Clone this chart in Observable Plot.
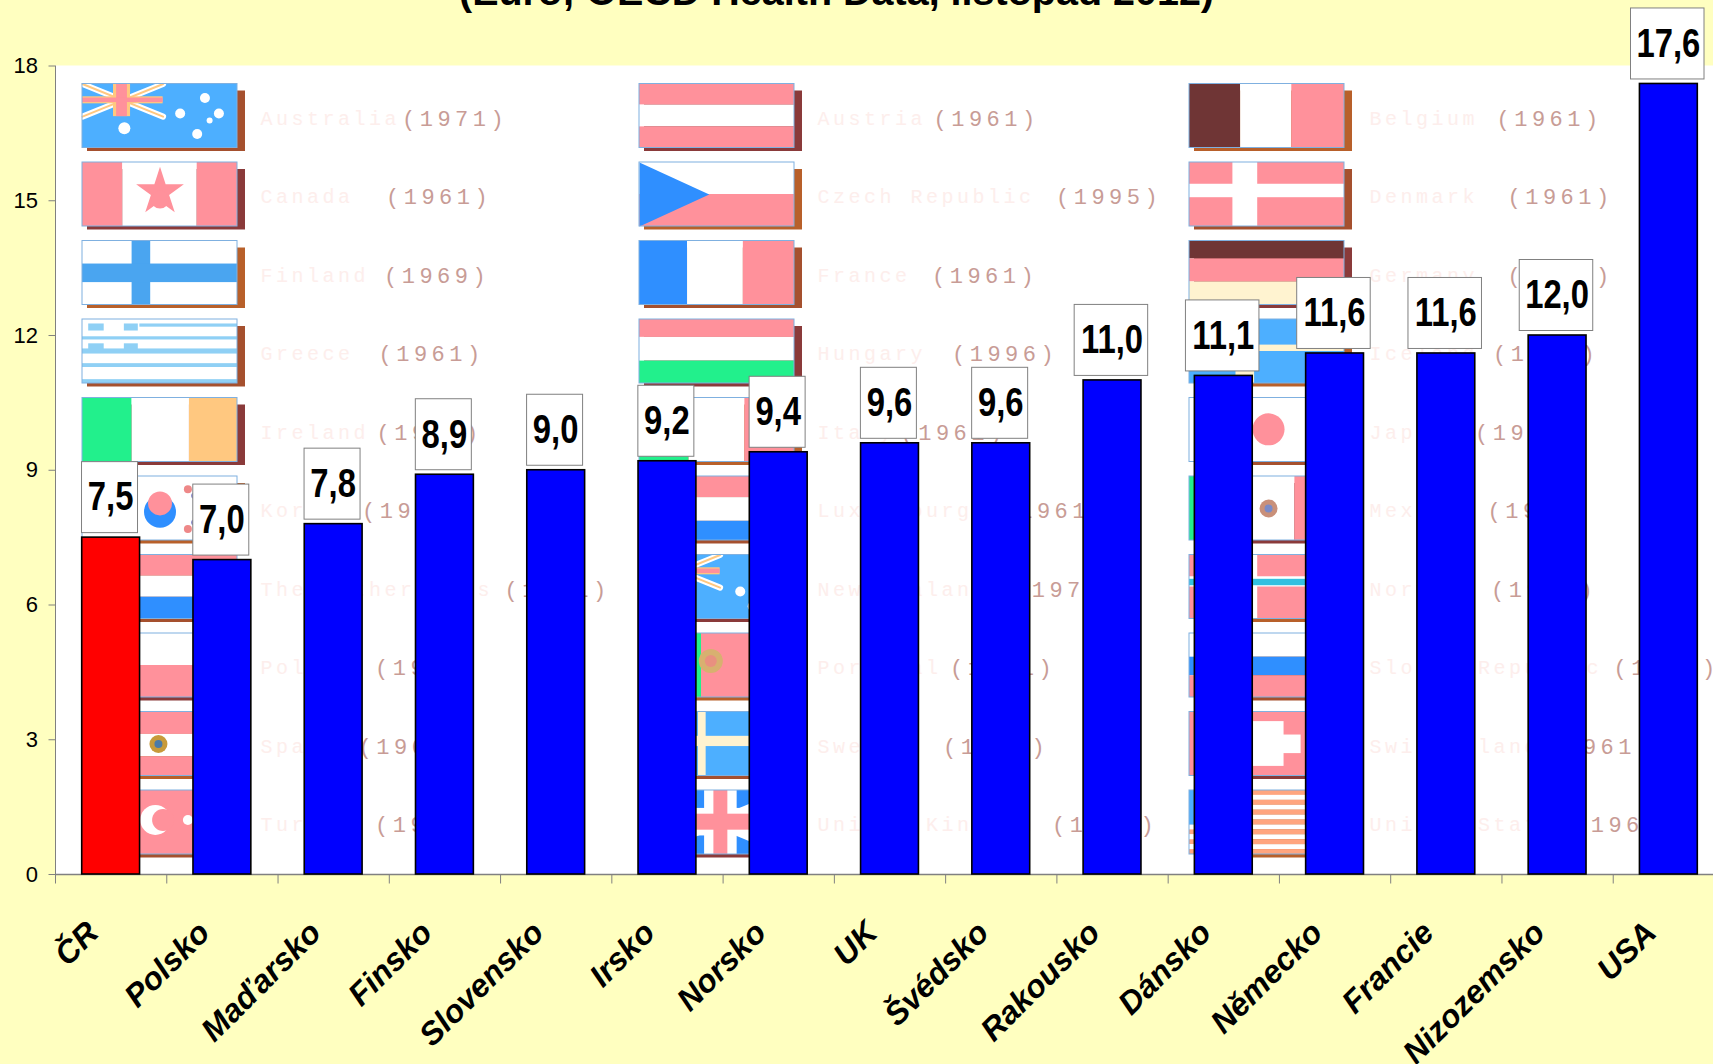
<!DOCTYPE html>
<html lang="cs">
<head>
<meta charset="utf-8">
<title>OECD Health Data</title>
<style>
html,body{margin:0;padding:0;background:#FFFFC0;overflow:hidden}
svg{display:block}
.legend-name text{letter-spacing:3.5px}
.legend-year text{letter-spacing:4.5px}
</style>
<script src="https://cdn.jsdelivr.net/npm/d3@7"></script>
<script src="https://cdn.jsdelivr.net/npm/@observablehq/plot@0.6"></script>
</head>
<body>
<div id="chart"></div>
<script>
// ---- chart values ----
const countries = ["ČR","Polsko","Maďarsko","Finsko","Slovensko","Irsko","Norsko","UK","Švédsko","Rakousko","Dánsko","Německo","Francie","Nizozemsko","USA"];
const values = [7.5,7.0,7.8,8.9,9.0,9.2,9.4,9.6,9.6,11.0,11.1,11.6,11.6,12.0,17.6];
const valueLabels = ["7,5","7,0","7,8","8,9","9,0","9,2","9,4","9,6","9,6","11,0","11,1","11,6","11,6","12,0","17,6"];
const yTicks = [0,3,6,9,12,15,18];
const titleText = "(Euro; OECD Health Data, listopad 2012)";

// ---- background legend picture: three columns of ten flags ----
const legendNames = [
  ["Australia","Canada","Finland","Greece","Ireland","Korea","The Netherlands","Poland","Spain","Turkey"],
  ["Austria","Czech Republic","France","Hungary","Italy","Luxembourg","New Zealand","Portugal","Sweden","United Kingdom"],
  ["Belgium","Denmark","Germany","Iceland","Japan","Mexico","Norway","Slovak Republic","Switzerland","United States"]
];
const legendYears = [
  [1971,1961,1969,1961,1961,1970,1961,1990,1961,1970],
  [1961,1995,1961,1996,1961,1961,1971,1961,1970,1961],
  [1961,1961,1961,1961,1961,1961,1961,1990,1961,1961]
];

const R="#FF919B",W="#FFFFFF",B="#2F8FFF",L="#4DAFFF",G="#22F08C",O="#FFC880",M="#6F3535",C="#FFF3D0",LB="#8FD0F5",S="#FFA57F";
const h = (...a)=>{let t=0;const o=[];for(let i=0;i<a.length;i+=2){o.push([0,t,1,t+a[i+1],a[i]]);t+=a[i+1];}return o;};
const v = (...a)=>{let t=0;const o=[];for(let i=0;i<a.length;i+=2){o.push([t,0,t+a[i+1],1,a[i]]);t+=a[i+1];}return o;};
const full = c=>[[0,0,1,1,c]];
const cross = (c,u0,u1,v0,v1)=>[[u0,0,u1,1,c],[0,v0,1,v1,c]];
const greece = [...full(W),[0,.27,1,.32,LB],[0,.46,1,.54,LB],[0,.69,1,.75,LB],[0,.94,1,1,LB],[.37,.07,1,.12,LB],
  [.04,.07,.14,.18,LB],[.27,.07,.36,.18,LB],[.04,.38,.14,.5,LB],[.27,.38,.36,.5,LB]];
const usa = [...Array(13).keys()].map(i=>[0,i/13,1,(i+1)/13,i%2?W:S]).concat([[0,0,.4,.54,L]]);

const flagRects = [
  [full(L), v(R,.26,W,.48,R,.26), [...full(W),...cross("#4AA5F0",.32,.44,.36,.65)], greece,
   v(G,.32,W,.37,O,.31), full(W), h(R,.33,W,.33,B,.34), h(W,.5,R,.5), h(R,.35,W,.35,R,.3), full(R)],
  [h(R,.33,W,.34,R,.33), h(W,.5,R,.5), v(B,.31,W,.36,R,.33), h(R,.28,W,.37,G,.35),
   v(G,.32,W,.36,R,.32), h(R,.33,W,.37,B,.3), full(L), v(G,.4,R,.6),
   [...full(L),...cross(C,.38,.43,.38,.54)],
   full(B)],
  [v(M,.33,W,.33,R,.34), [...full(R),...cross(W,.28,.44,.34,.55)], h(M,.28,R,.36,C,.36),
   [...full(L),...cross(C,.3,.42,.4,.5)], full(W), v(G,.33,W,.35,R,.32),
   [...full(R),...cross(W,.3,.44,.34,.5),...cross("#33C0E0",.33,.41,.38,.48)],
   h(W,.37,B,.29,R,.34), [...full(R),[.39,.15,.61,.85,W],[.28,.36,.72,.65,W]], usa]
];
// crosses painted over the diagonals of the union flags
const flagCrosses = [
  [0,0,.2,0,.31,.51,O],[0,0,0,.2,.52,.31,O],[0,0,.22,0,.29,.51,R],[0,0,0,.22,.52,.29,R],
  [1,6,.2,0,.31,.51,O],[1,6,0,.2,.52,.31,O],[1,6,.22,0,.29,.51,R],[1,6,0,.22,.52,.29,R],
  [1,9,.42,0,.63,1,W],[1,9,0,.28,1,.71,W],[1,9,.48,0,.57,1,R],[1,9,0,.37,1,.62,R]
];
// emblems: [col,row,u,v,radius,colour,symbol]
const flagDots = [
  [0,0,.79,.22,5,W],[0,0,.63,.46,5,W],[0,0,.88,.46,5,W],[0,0,.82,.57,3,W],[0,0,.74,.78,5,W],[0,0,.27,.69,6,W],
  [0,1,.5,.46,15,R,"star"],[0,1,.5,.58,9,R],
  [0,5,.5,.55,16,B],[0,5,.5,.42,12,R],[0,5,.68,.2,4,"#E88"],[0,5,.72,.3,3,"#88C"],[0,5,.68,.82,4,"#E88"],[0,5,.72,.72,3,"#88C"],
  [0,8,.49,.5,9,"#C79A3A"],[0,8,.49,.5,4,"#4A7AA8"],
  [0,9,.47,.46,15,W],[0,9,.52,.46,11,R],[0,9,.68,.46,5,W],
  [1,6,.79,.22,5,W],[1,6,.65,.57,5,W],[1,6,.88,.46,5,W],[1,6,.73,.8,5,W],
  [1,7,.46,.43,12,"#D8B070"],[1,7,.46,.43,6,"#E89080"],
  [2,4,.51,.49,16,R],
  [2,5,.51,.5,9,"#C9907A"],[2,5,.51,.5,4,"#7A8AC8"]
];
// diagonals of the union flags: [col,row,u0,v0,u1,v1,colour,width]
const unionDiagonals = [
  [0,0,0,0,.52,.51,W,6],[0,0,.52,0,0,.51,W,6],[0,0,0,0,.52,.51,O,2],[0,0,.52,0,0,.51,O,2],
  [1,6,0,0,.52,.51,W,6],[1,6,.52,0,0,.51,W,6],[1,6,0,0,.52,.51,O,2],[1,6,.52,0,0,.51,O,2],
  [1,9,0,0,1,1,W,10],[1,9,1,0,0,1,W,10]
];
const czechTriangle = [[0,0],[.45,.5],[0,1]];

// ---- layout ----
const W_=1713, H_=1064, plotTop=65.5, plotBottom=874, axisLeft=55, axisRight=1724;
const yUnit = (plotBottom-plotTop)/18;
const xUnit = (axisRight-axisLeft)/15;
const py = p=>p/yUnit, px = p=>p/xUnit;

const colLeft = [px(82-55),px(639-55),px(1189-55)];
const colText = [px(260-55),px(817-55),px(1369-55)];
const rowTop = r=>18-py(83.5-plotTop+78.5*r);
const flagW = px(155), flagH = py(64);
const fx = (c,u)=>colLeft[c]+u*flagW;
const fy = (r,vv)=>rowTop(r)-vv*flagH;
// rough proportional width of a country name, which decides where its year starts
const nameWidth = s=>[...s].reduce((t,ch)=>t+("iltrI ".includes(ch)?9:"mwMWDGHNUKRC".includes(ch)?20:16.5),0);

const shadows=[], rects=[], frames=[], legendText=[];
legendNames.forEach((names,c)=>names.forEach((name,r)=>{
  shadows.push({x1:fx(c,0)+px(5),x2:fx(c,1)+px(8),y1:fy(r,1)-py(3.5),y2:fy(r,0)-py(7),k:(c+r)%3});
  frames.push({x1:fx(c,0),x2:fx(c,1),y1:fy(r,1),y2:fy(r,0)});
  flagRects[c][r].forEach(([u0,v0,u1,v1,col])=>rects.push({x1:fx(c,u0),x2:fx(c,u1),y1:fy(r,v1),y2:fy(r,v0),col}));
  legendText.push({name,year:`(${legendYears[c][r]})`,x:colText[c],
    xYear:colText[c]+px(nameWidth(name)+23),y:fy(r,.54)});
}));
const crossRects = flagCrosses.map(([c,r,u0,v0,u1,v1,col])=>({x1:fx(c,u0),x2:fx(c,u1),y1:fy(r,v1),y2:fy(r,v0),col}));
const bars = countries.map((name,i)=>({name,i,value:values[i],label:valueLabels[i],col:i===0?"#FF0000":"#0000FF"}));
const flagLines = unionDiagonals.flatMap(([c,r,u0,v0,u1,v1,col,w],id)=>[
  {id,col,w,x:fx(c,u0),y:fy(r,v0)},{id,col,w,x:fx(c,u1),y:fy(r,v1)}]);
const triangle = czechTriangle.map(([u,vv])=>({x:fx(1,u),y:fy(1,vv)}));
const dots = flagDots.map(([c,r,u,vv,rad,col,sym])=>({x:fx(c,u),y:fy(r,vv),rad,col,sym:sym||"circle"}));

const sans = '"Liberation Sans",Arial,sans-serif';
const mono = '"Liberation Mono","DejaVu Sans Mono",monospace';
const boxH = py(71), boxGap = py(4.5);
const boxW = s=>px(s.length>3?73.5:56);

const chart = Plot.plot({
  width:W_, height:H_,
  marginTop:plotTop, marginBottom:H_-plotBottom, marginLeft:axisLeft, marginRight:0,
  style:{background:"transparent",overflow:"hidden"},
  x:{domain:[0,15],range:[axisLeft,axisRight],axis:null},
  y:{domain:[0,18],range:[plotBottom,plotTop],axis:null},
  color:{type:"identity"},
  r:{type:"identity"},
  marks:[
    Plot.rect([{}],{x1:()=>0,x2:()=>15,y1:()=>0,y2:()=>18,fill:"#FFFFFF"}),
    // flags
    Plot.rect(shadows,{x1:"x1",x2:"x2",y1:"y1",y2:"y2",fill:d=>["#A5502E","#8A3A3A","#B8602A"][d.k]}),
    Plot.rect(rects,{x1:"x1",x2:"x2",y1:"y1",y2:"y2",fill:"col"}),
    Plot.line(triangle,{x:"x",y:"y",fill:B,stroke:"none"}),
    Plot.line(flagLines,{x:"x",y:"y",z:"id",stroke:"col",strokeWidth:"w",curve:"linear"}),
    Plot.rect(crossRects,{x1:"x1",x2:"x2",y1:"y1",y2:"y2",fill:"col"}),
    Plot.dot(dots,{x:"x",y:"y",r:"rad",fill:"col",symbol:"sym"}),
    Plot.rect(frames,{x1:"x1",x2:"x2",y1:"y1",y2:"y2",fill:"none",stroke:"#7FB0E0",strokeWidth:1}),
    // legend texts
    Plot.text(legendText,{x:"x",y:"y",text:"name",textAnchor:"start",fontFamily:mono,fontSize:20,fill:"#FDEEEC",className:"legend-name"}),
    Plot.text(legendText,{x:"xYear",y:"y",text:"year",textAnchor:"start",fontFamily:mono,fontSize:22,fill:"#C89C96",className:"legend-year"}),
    // axes
    Plot.ruleY([0],{stroke:"#808080",strokeWidth:1.5}),
    Plot.ruleX([0],{y1:0,y2:18,stroke:"#808080",strokeWidth:1}),
    Plot.ruleX(d3.range(0,16),{x:d=>d,y1:0,y2:py(-9.5),stroke:"#808080",strokeWidth:1}),
    // bars
    Plot.rect(bars,{x1:d=>d.i+.24,x2:d=>d.i+.76,y1:()=>0,y2:"value",fill:"col",stroke:"#000",strokeWidth:1.6}),
    // value labels
    Plot.rect(bars,{x1:d=>d.i+.49-boxW(d.label)/2,x2:d=>d.i+.49+boxW(d.label)/2,y1:d=>d.value+boxGap,y2:d=>d.value+boxGap+boxH,fill:"#FFFFFF",stroke:"#808080",strokeWidth:1}),
    Plot.text(bars,{x:d=>d.i+.495,y:d=>d.value+boxGap+boxH/2,text:"label",fontFamily:sans,fontWeight:"bold",fontSize:40,fill:"#000",className:"value-label"}),
    // category labels
    Plot.text(bars,{x:d=>d.i+.5,y:()=>0,text:"name",rotate:-45,textAnchor:"end",dx:-18,dy:53,fontFamily:sans,fontWeight:"bold",fontStyle:"italic",fontSize:32,fill:"#000"}),
    // y axis
    Plot.axisY(yTicks,{anchor:"left",tickSize:6.5,tickPadding:11,stroke:"#808080",fill:"#000",fontSize:22,fontFamily:sans,label:null}),
    // title, cut by the top edge of the picture
    Plot.text([titleText],{x:()=>(836-axisLeft)/xUnit,y:()=>18,text:d=>d,dy:-74,fontFamily:sans,fontWeight:"bold",fontSize:39.5,fill:"#000"})
  ]
});
document.getElementById("chart").appendChild(chart);
// the value labels of the original are set in a condensed bold
chart.querySelectorAll(".value-label text").forEach(t=>{
  t.setAttribute("textLength",(t.getComputedTextLength()*0.82).toFixed(1));
  t.setAttribute("lengthAdjust","spacingAndGlyphs");
});
</script>
</body>
</html>
